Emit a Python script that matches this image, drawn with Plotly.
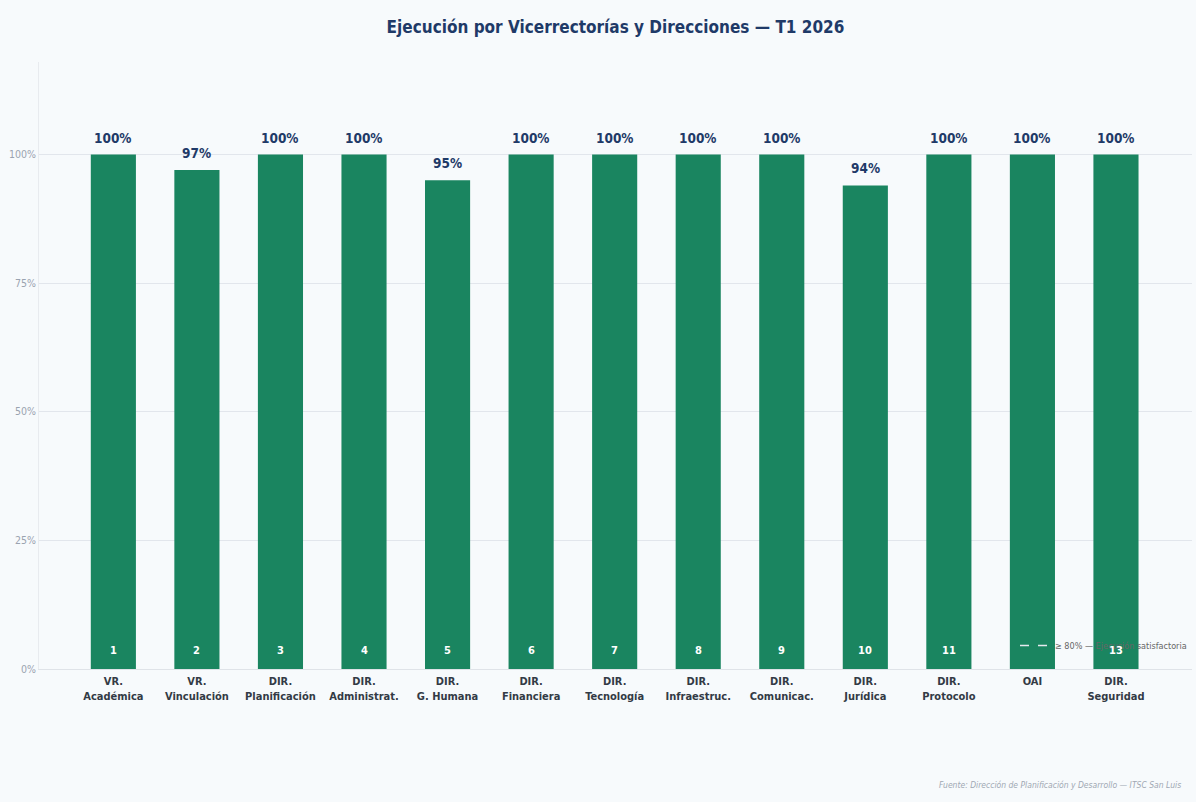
import plotly.graph_objects as go

categories = ["VR.<br>Académica", "VR.<br>Vinculación", "DIR.<br>Planificación", "DIR.<br>Administrat.",
              "DIR.<br>G. Humana", "DIR.<br>Financiera", "DIR.<br>Tecnología", "DIR.<br>Infraestruc.",
              "DIR.<br>Comunicac.", "DIR.<br>Jurídica", "DIR.<br>Protocolo", "OAI", "DIR.<br>Seguridad"]
values = [100, 97, 100, 100, 95, 100, 100, 100, 100, 94, 100, 100, 100]
numbers = ["1", "2", "3", "4", "5", "6", "7", "8", "9", "10", "11", "", "13"]
pct_labels = [f"{v}%" for v in values]
y_ticks = [0, 25, 50, 75, 100]
y_ticktext = ["0%", "25%", "50%", "75%", "100%"]
threshold_name = "≥ 80% — Ejecución satisfactoria"

FONT = "DejaVu Sans Condensed"
GREEN = "#1a8560"
NAVY = "#1f3a68"

fig = go.Figure()
fig.add_trace(go.Bar(
    x=categories, y=values, width=0.54,
    marker=dict(color=GREEN, line=dict(width=0)),
    showlegend=False, hoverinfo="x+y",
))
fig.add_trace(go.Scatter(
    x=[None], y=[None], mode="lines", name=threshold_name,
    line=dict(color="#e6e9ee", width=1.5, dash="dash"),
))

annotations = []
for c, v, lab, num in zip(categories, values, pct_labels, numbers):
    annotations.append(dict(x=c, y=v, text=f"<b>{lab}</b>", showarrow=False, xanchor="center",
                            yanchor="bottom", yshift=7,
                            font=dict(family=FONT, size=13.5, color=NAVY)))
    if num:
        annotations.append(dict(x=c, y=0, text=f"<b>{num}</b>", showarrow=False, xanchor="center",
                                yanchor="bottom", yshift=10,
                                font=dict(family=FONT, size=11, color="white")))
annotations.append(dict(text="<i>Fuente: Dirección de Planificación y Desarrollo — ITSC San Luis</i>",
                        xref="paper", yref="paper", x=0.9922, y=-0.191, xanchor="right", yanchor="middle",
                        showarrow=False, font=dict(family=FONT, size=8.5, color="#a0a8b3")))

fig.update_layout(
    width=1196, height=802,
    paper_bgcolor="#f7fafc", plot_bgcolor="#f7fafc",
    margin=dict(l=39, r=4, t=62, b=133),
    title=dict(text="<b>Ejecución por Vicerrectorías y Direcciones — T1 2026</b>",
               xref="paper", x=0.5, xanchor="center", y=0.966, yanchor="middle",
               font=dict(family=FONT, size=17, color=NAVY)),
    font=dict(family=FONT),
    legend=dict(x=1, xanchor="right", y=0.015, yanchor="bottom", bgcolor="rgba(0,0,0,0)",
                font=dict(family=FONT, size=9, color="#666666")),
    xaxis=dict(range=[-0.89, 12.91], tickfont=dict(family=FONT, size=11, color="#333a45", weight="bold"),
               showgrid=False, showline=True, linecolor="#dfe3e8", ticks="", ticklabelstandoff=2),
    yaxis=dict(range=[0, 118], tickvals=y_ticks, ticktext=y_ticktext,
               tickfont=dict(family=FONT, size=10.5, color="#9aa3b0"),
               gridcolor="#e2e6ec", zeroline=False, showline=True, linecolor="#e8ebef"),
    annotations=annotations,
)

fig.write_html("out.html", config={"displayModeBar": False},
               post_script="document.body.style.margin='0';")
